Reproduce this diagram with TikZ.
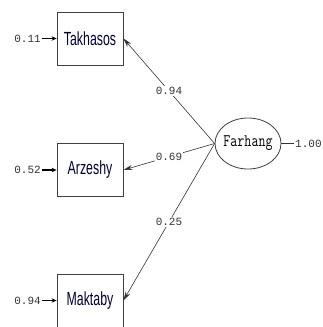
\documentclass[tikz,border=0pt]{standalone}
\usepackage{fontspec}
\setmainfont{Liberation Sans}
\newfontfamily\monof{Liberation Mono}
\newfontfamily\lmmono{Latin Modern Mono}
\usetikzlibrary{arrows.meta,shapes.geometric}
\tikzset{
  boxnode/.style={draw=black!75,line width=0.8pt,minimum width=66pt,minimum height=53pt,inner sep=0pt,
    font=\fontsize{19}{19}\selectfont,text=black!80!blue},
  latent/.style={draw=black!75,line width=0.8pt,ellipse,minimum width=66pt,minimum height=51pt,
    inner xsep=-12pt,inner ysep=0pt,font=\lmmono\fontsize{13.6}{13.6}\selectfont},
  numlbl/.style={font=\monof\fontsize{11}{11}\selectfont,fill=white,inner sep=1pt,text=black!80},
  path/.style={draw=black!80,line width=0.6pt,-{Stealth[length=9pt,width=5pt]}},
  errpath/.style={draw=black,line width=1.2pt,-{Stealth[length=5pt,width=4.5pt]}},
}
\begin{document}
\begin{tikzpicture}[x=1pt,y=1pt]
\useasboundingbox (0,0) rectangle (323,327);
\node[boxnode] (T) at (90,288.5) {\scalebox{0.65}[1]{Takhasos}};
\node[boxnode] (A) at (90,157) {\scalebox{0.65}[1]{Arzeshy}};
\node[boxnode] (M) at (90,26.5) {\scalebox{0.65}[1]{Maktaby}};
\node[latent] (F) at (248,183.5) {\scalebox{1}[1.3]{Farhang}};
\draw[path] (F.west) -- node[numlbl,pos=0.5] {0.94} (T.east);
\draw[path] (F.west) -- node[numlbl,pos=0.5] {0.69} (A.east);
\draw[path] (F.west) -- node[numlbl,pos=0.5] {0.25} (M.east);
\node[numlbl,anchor=west] (v) at (294,183.5) {1.00};
\draw[draw=black!80,line width=0.8pt] (F.east) -- (v.west);
\node[numlbl,anchor=east] (eT) at (42,288.5) {0.11};
\node[numlbl,anchor=east] (eA) at (42,157) {0.52};
\node[numlbl,anchor=east] (eM) at (42,26.5) {0.94};
\draw[errpath] (eT.east) -- (T.west);
\draw[errpath] (eA.east) -- (A.west);
\draw[errpath] (eM.east) -- (M.west);
\end{tikzpicture}
\end{document}
